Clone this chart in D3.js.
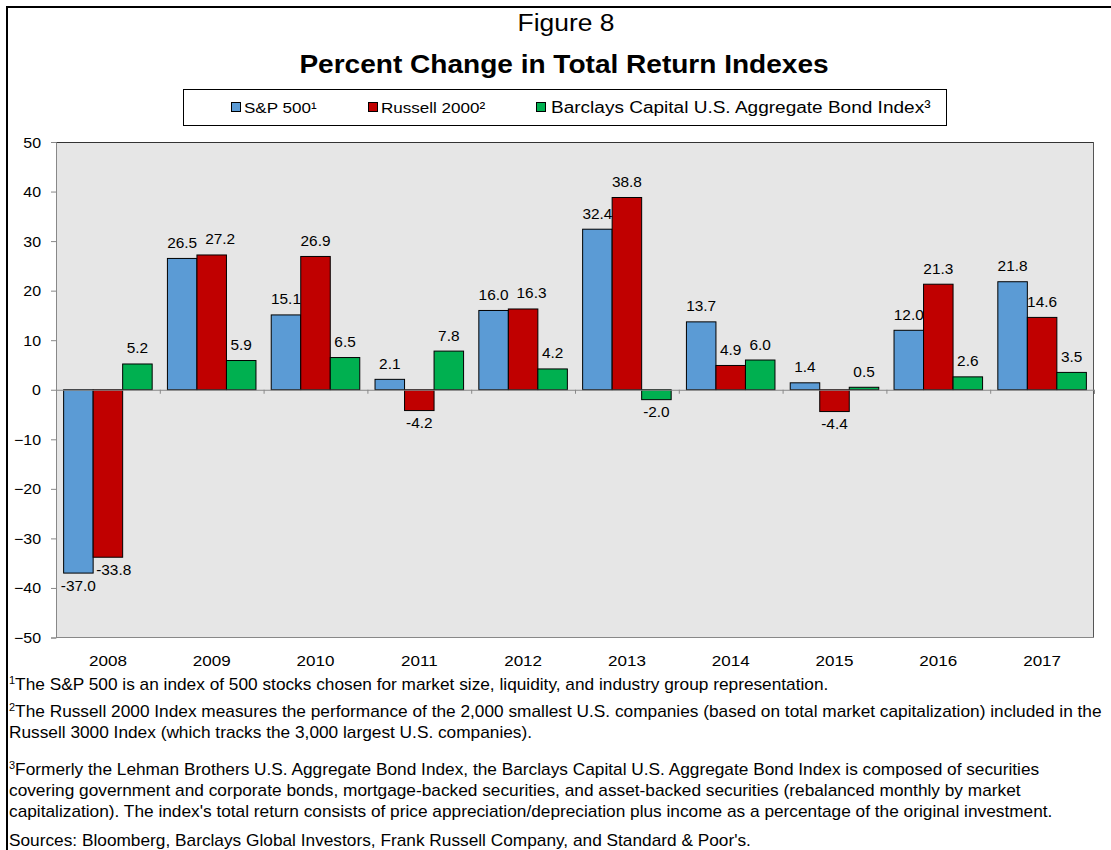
<!DOCTYPE html>
<html>
<head>
<meta charset="utf-8">
<script src="https://cdn.jsdelivr.net/npm/d3@7"></script>
<style>
  body { margin: 0; background: #fff; }
  svg text { font-family: "Liberation Sans", Arial, sans-serif; fill: #000; }
</style>
</head>
<body>
<div id="chart"></div>
<script>
// datos
const years = ['2008','2009','2010','2011','2012','2013','2014','2015','2016','2017']
const seriesNames = ['S&P 500¹', 'Russell 2000²', 'Barclays Capital U.S. Aggregate Bond Index³']
const sp500 = [-37.0, 26.5, 15.1, 2.1, 16.0, 32.4, 13.7, 1.4, 12.0, 21.8]
const russell = [-33.8, 27.2, 26.9, -4.2, 16.3, 38.8, 4.9, -4.4, 21.3, 14.6]
const barclays = [5.2, 5.9, 6.5, 7.8, 4.2, -2.0, 6.0, 0.5, 2.6, 3.5]
const yTicks = [-50, -40, -30, -20, -10, 0, 10, 20, 30, 40, 50]
const colors = ['#5b9bd5', '#c00000', '#00b050']

const footnotes = [
    {sup: '1', lines: ['The S&P 500 is an index of 500 stocks chosen for market size, liquidity, and industry group representation.'], y: 690},
    {sup: '2', lines: ['The Russell 2000 Index measures the performance of the 2,000 smallest U.S. companies (based on total market capitalization) included in the',
                       'Russell 3000 Index (which tracks the 3,000 largest U.S. companies).'], y: 717},
    {sup: '3', lines: ['Formerly the Lehman Brothers U.S. Aggregate Bond Index, the Barclays Capital U.S. Aggregate Bond Index is composed of securities',
                       'covering government and corporate bonds, mortgage-backed securities, and asset-backed securities (rebalanced monthly by market',
                       'capitalization). The index\'s total return consists of price appreciation/depreciation plus income as a percentage of the original investment.'], y: 775}
]
const sources = 'Sources: Bloomberg, Barclays Global Investors, Frank Russell Company, and Standard & Poor\'s.'

const width = 1111
const height = 850
const plot = {left: 56, right: 1094, top: 142, bottom: 637.5}
const SX = 1.1   // el texto original esta algo ensanchado

const svg = d3.select('#chart').append('svg').attr('width', width).attr('height', height)

// texto con escala horizontal
function addText(parent, x, y, str, size, anchor) {
    return parent.append('text')
        .attr('transform', `translate(${x}, ${y}) scale(${SX}, 1)`)
        .attr('text-anchor', anchor || 'start')
        .style('font-size', size + 'px')
        .text(str)
}

// marco exterior
svg.append('rect').attr('x', 7).attr('y', 7).attr('width', 1130).attr('height', 900)
    .attr('fill', 'none').attr('stroke', '#000').attr('stroke-width', 2)

// titulos
addText(svg, 566, 31, 'Figure 8', 24, 'middle')
addText(svg, 564, 73, 'Percent Change in Total Return Indexes', 25.5, 'middle').style('font-weight', 'bold')

// leyenda
svg.append('rect').attr('x', 183.5).attr('y', 89.5).attr('width', 763).attr('height', 36)
    .attr('fill', '#fff').attr('stroke', '#000').attr('stroke-width', 1)
const legendX = [231, 368, 536]
const legendSize = [15.5, 15.5, 17.3]
const legend = svg.append('g').selectAll('g').data(seriesNames).enter().append('g')
    .attr('transform', (d, i) => `translate(${legendX[i]}, 107)`)
legend.append('rect').attr('x', 0.5).attr('y', -4.5).attr('width', 9).attr('height', 9)
    .attr('fill', (d, i) => colors[i]).attr('stroke', '#000')
legend.each(function(d, i) { addText(d3.select(this), i === 2 ? 15 : 13, 5.5, d, legendSize[i]) })

// escalas
const x0 = d3.scaleBand().domain(years).range([plot.left, plot.right]).paddingInner(0.147).paddingOuter(0.0735)
const x1 = d3.scaleBand().domain([0, 1, 2]).range([0, x0.bandwidth()])
const y = d3.scaleLinear().domain([-50, 50]).range([plot.bottom, plot.top])

// area del grafico
svg.append('rect').attr('x', plot.left).attr('y', plot.top)
    .attr('width', plot.right - plot.left).attr('height', plot.bottom - plot.top)
    .attr('fill', '#e6e6e6').attr('stroke', 'none')
svg.append('line').attr('x1', plot.left).attr('x2', plot.right).attr('y1', plot.top + 0.5).attr('y2', plot.top + 0.5)
    .attr('stroke', '#333')
svg.append('line').attr('x1', plot.right - 0.5).attr('x2', plot.right - 0.5).attr('y1', plot.top).attr('y2', plot.bottom)
    .attr('stroke', '#555')

// eje y
const yAxis = d3.axisLeft(y).tickValues(yTicks).tickSize(5).tickFormat(d3.format('d'))
const yAxisGroup = svg.append('g').attr('transform', `translate(${plot.left}, 0)`).call(yAxis)
yAxisGroup.select('.domain').attr('stroke', '#888')
yAxisGroup.selectAll('.tick line').attr('stroke', '#888')
yAxisGroup.selectAll('.tick text')
    .attr('x', 0).attr('dy', null).attr('y', 5)
    .attr('transform', `translate(-15, 0) scale(${SX}, 1)`)
    .style('font-size', '14.5px').style('font-family', '"Liberation Sans", Arial, sans-serif')

// linea inferior
svg.append('line').attr('x1', plot.left).attr('x2', plot.right).attr('y1', plot.bottom).attr('y2', plot.bottom)
    .attr('stroke', '#888')

// barras
const data = years.map((yr, i) => ({year: yr, values: [sp500[i], russell[i], barclays[i]]}))
const groups = svg.append('g').selectAll('g').data(data).enter().append('g')
    .attr('transform', d => `translate(${x0(d.year)}, 0)`)
groups.selectAll('rect').data(d => d.values).enter().append('rect')
    .attr('x', (d, i) => x1(i))
    .attr('y', d => y(Math.max(0, d)))
    .attr('width', x1.bandwidth())
    .attr('height', d => Math.abs(y(d) - y(0)))
    .attr('fill', (d, i) => colors[i])
    .attr('stroke', '#000').attr('stroke-width', 1)

// etiquetas de datos, se separan si chocan con la etiqueta o barra anterior
groups.each(function(d) {
    const g = d3.select(this)
    let prev = null
    d.values.forEach((v, i) => {
        let cx = x1(i) + x1.bandwidth() / 2
        const by = v >= 0 ? y(v) - 10.5 : y(v) + 17.5
        const t = addText(g, cx, by, v.toFixed(1), 14, 'middle')
        const w = t.node().getComputedTextLength() * SX
        let minX = -Infinity
        if (prev && Math.abs(prev.y - by) < 12) minX = prev.x + prev.w / 2 + 8 + w / 2
        if (i > 0 && v < 0 && d.values[i - 1] < v && by - 11 < y(d.values[i - 1])) {
            minX = Math.max(minX, x1(i) + 3 + w / 2)
        }
        if (cx < minX) {
            cx = minX
            t.attr('transform', `translate(${cx}, ${by}) scale(${SX}, 1)`)
        }
        prev = {x: cx, y: by, w: w}
    })
})

// eje x en cero
const xAxis = d3.axisBottom(d3.scaleLinear().domain([0, years.length]).range([plot.left, plot.right]))
    .tickValues(d3.range(years.length + 1)).tickSize(4).tickFormat('')
const xAxisGroup = svg.append('g').attr('transform', `translate(0, ${y(0)})`).call(xAxis)
xAxisGroup.select('.domain').attr('stroke', '#888')
xAxisGroup.selectAll('.tick line').attr('stroke', '#888')

// etiquetas de categoria
const cats = svg.append('g')
years.forEach(yr => addText(cats, x0(yr) + x0.bandwidth() / 2, 666, yr, 15.5, 'middle'))

// notas
const notes = svg.append('g')
footnotes.forEach(f => {
    f.lines.forEach((line, j) => {
        const t = notes.append('text')
            .attr('transform', `translate(9, ${f.y + j * 21}) scale(${SX}, 1)`)
            .style('font-size', '15.7px')
        if (j === 0) {
            t.append('tspan').style('font-size', '10px').attr('dy', -6).text(f.sup)
            t.append('tspan').attr('dy', 6).text(line)
        } else {
            t.text(line)
        }
    })
})
addText(notes, 9, 846, sources, 15.7)
</script>
</body>
</html>
